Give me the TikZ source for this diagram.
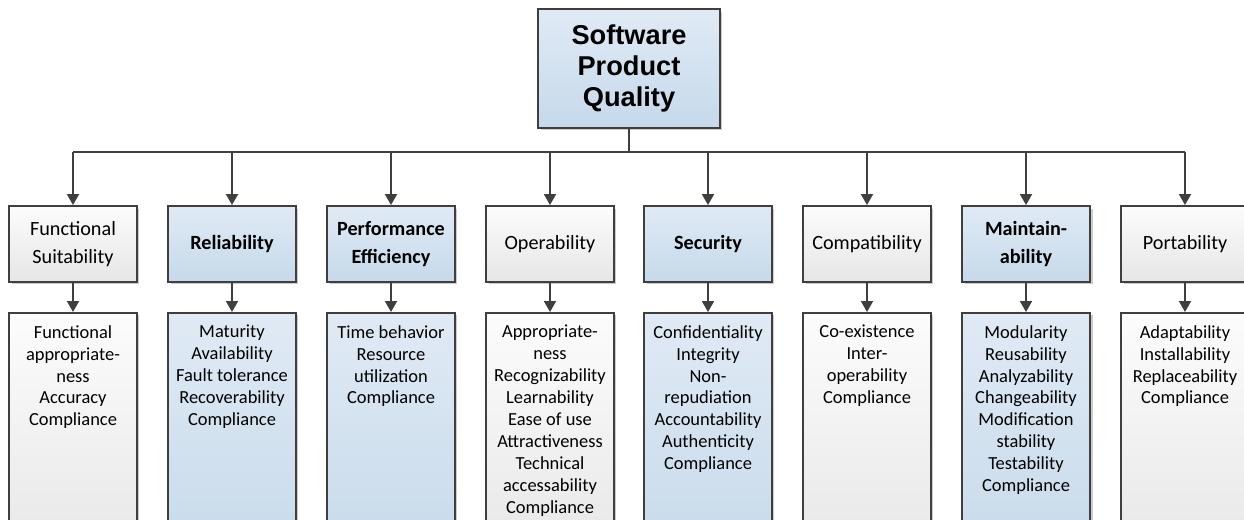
\documentclass[tikz,border=0pt]{standalone}
\usepackage{fontspec}
\setmainfont{Carlito}
\newfontfamily\titlefont{Liberation Sans}
\usepackage{tikz}
\usetikzlibrary{positioning,arrows.meta,shadows}

\definecolor{edge}{HTML}{3F3F3F}
\definecolor{bluetop}{HTML}{E0EAF5}
\definecolor{bluebot}{HTML}{C6D9EA}
\definecolor{greytop}{HTML}{FCFCFC}
\definecolor{greybot}{HTML}{E6E6E6}

\tikzset{
  box/.style={draw=edge, line width=1.1pt, rectangle,
    drop shadow={shadow xshift=0.05cm, shadow yshift=-0.05cm, fill=black, opacity=0.2}},
  bluebox/.style={box, top color=bluetop, bottom color=bluebot},
  greybox/.style={box, top color=greytop, bottom color=greybot},
  sub/.style={minimum width=2.56cm, minimum height=1.52cm, align=center,
    font=\fontsize{11.5}{15.5}\selectfont, inner sep=1pt},
  subbold/.style={sub, font=\fontsize{11.5}{15.5}\selectfont\bfseries},
  list/.style={anchor=north, inner xsep=0.03cm, inner ysep=7pt,
    font=\fontsize{10.5}{12.5}\selectfont,
    execute at begin node={\begin{minipage}[t][4.6cm][t]{2.5cm}\centering},
    execute at end node={\end{minipage}}},
  conn/.style={draw=edge, line width=1.1pt},
  arr/.style={-{Triangle[width=0.24cm,length=0.22cm]}}
}

\begin{document}
\begin{tikzpicture}[x=0.02cm,y=-0.02cm]
  \useasboundingbox (0,0) rectangle (1244,520);
  \clip (0,0) rectangle (1244,520);

  % Root
  \node[bluebox, minimum width=3.64cm, minimum height=2.38cm, align=center,
    font=\titlefont\bfseries\fontsize{15.5}{17.5}\selectfont] (spq) at (629,68.5)
    {Software\\Product\\Quality};

  % Characteristics
  \node[greybox,sub] (q1) at (73,244) {Functional\\Suitability};
  \node[bluebox,subbold] (q2) at (232,244) {Reliability};
  \node[bluebox,subbold] (q3) at (391,244) {Performance\\Efficiency};
  \node[greybox,sub] (q4) at (550,244) {Operability};
  \node[bluebox,subbold] (q5) at (708,244) {Security};
  \node[greybox,sub] (q6) at (867,244) {Compatibility};
  \node[bluebox,subbold] (q7) at (1026,244) {Maintain-\\ability};
  \node[greybox,sub] (q8) at (1185,244) {Portability};

  % Sub-characteristics
  \node[greybox,list] (s1) at (73,312) {Functional\\appropriate-\\ness\\Accuracy\\Compliance};
  \node[bluebox,list] (s2) at (232,312) {Maturity\\Availability\\Fault tolerance\\Recoverability\\Compliance};
  \node[bluebox,list] (s3) at (391,312) {Time behavior\\Resource\\utilization\\Compliance};
  \node[greybox,list] (s4) at (550,312) {Appropriate-\\ness\\Recognizability\\Learnability\\Ease of use\\Attractiveness\\Technical\\accessability\\Compliance};
  \node[bluebox,list] (s5) at (708,312) {Confidentiality\\Integrity\\Non-\\repudiation\\Accountability\\Authenticity\\Compliance};
  \node[greybox,list] (s6) at (867,312) {Co-existence\\Inter-\\operability\\Compliance};
  \node[bluebox,list] (s7) at (1026,312) {Modularity\\Reusability\\Analyzability\\Changeability\\Modification\\stability\\Testability\\Compliance};
  \node[greybox,list] (s8) at (1185,312) {Adaptability\\Installability\\Replaceability\\Compliance};

  % Connectors
  \coordinate (bus) at (629,152);
  \draw[conn] (spq.south) -- (bus);
  \draw[conn] (q1.north |- bus) -- (q8.north |- bus);
  \foreach \i in {1,...,8} {
    \draw[conn,arr] (q\i.north |- bus) -- (q\i.north);
    \draw[conn,arr] (q\i.south) -- (s\i.north);
  }
\end{tikzpicture}
\end{document}
